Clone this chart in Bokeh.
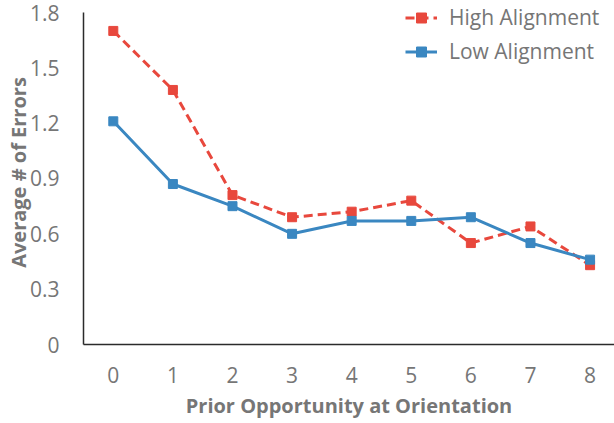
from bokeh.plotting import figure
from bokeh.models import FixedTicker, Legend, LegendItem, Range1d
from bokeh.embed import file_html
from bokeh.resources import INLINE

opportunity = [0, 1, 2, 3, 4, 5, 6, 7, 8]
high_alignment = [1.70, 1.38, 0.81, 0.69, 0.72, 0.78, 0.55, 0.64, 0.43]
low_alignment = [1.21, 0.87, 0.75, 0.60, 0.67, 0.67, 0.69, 0.55, 0.46]
y_ticks = [0, 0.3, 0.6, 0.9, 1.2, 1.5, 1.8]
y_tick_labels = ["0", "0.3", "0.6", "0.9", "1.2", "1.5", "1.8"]
x_tick_labels = ["0", "1", "2", "3", "4", "5", "6", "7", "8"]

RED = "#E8483D"
BLUE = "#3A87C1"
GREY = "#767676"
FONT = "Open Sans"

p = figure(width=614, height=423, output_backend="svg", toolbar_location=None,
           x_range=Range1d(-0.5, 8.41), y_range=Range1d(0, 1.865),
           min_border_left=83, min_border_right=0, min_border_top=0, min_border_bottom=79)
p.outline_line_color = None
p.grid.visible = False

hl = p.line(opportunity, high_alignment, line_color=RED, line_width=3, line_dash="9 5")
hm = p.scatter(opportunity, high_alignment, marker="square", size=9, fill_color=RED, line_color=RED)
ll = p.line(opportunity, low_alignment, line_color=BLUE, line_width=3)
lm = p.scatter(opportunity, low_alignment, marker="square", size=9, fill_color=BLUE, line_color=BLUE)

for ax in (p.xaxis[0], p.yaxis[0]):
    ax.axis_line_color = "#2b2b2b"
    ax.axis_line_width = 1.5
    ax.major_tick_line_color = None
    ax.minor_tick_line_color = None
    ax.major_label_text_font = FONT
    ax.major_label_text_font_size = "21px"
    ax.major_label_text_color = GREY
    ax.axis_label_text_font = FONT
    ax.axis_label_text_font_size = "20px"
    ax.axis_label_text_font_style = "bold"
    ax.axis_label_text_color = GREY

p.xaxis.ticker = FixedTicker(ticks=opportunity)
p.xaxis.major_label_overrides = {v: s for v, s in zip(opportunity, x_tick_labels)}
p.yaxis.ticker = FixedTicker(ticks=y_ticks)
p.yaxis.major_label_overrides = {v: s for v, s in zip(y_ticks, y_tick_labels)}
p.yaxis.bounds = (y_ticks[0], y_ticks[-1])
p.xaxis.axis_label = "Prior Opportunity at Orientation"
p.yaxis.axis_label = "Average # of Errors"
p.xaxis.major_label_standoff = 16
p.xaxis.axis_label_standoff = 6
p.yaxis.major_label_standoff = 18
p.yaxis.axis_label_standoff = -5

legend = Legend(items=[LegendItem(label="High Alignment", renderers=[hl, hm]),
                       LegendItem(label="Low Alignment", renderers=[ll, lm])],
                location=(322, 279), orientation="vertical")
legend.border_line_color = None
legend.background_fill_alpha = 0
legend.padding = 0
legend.margin = 0
legend.spacing = 6
legend.glyph_width = 32
legend.glyph_height = 25
legend.label_height = 25
legend.label_standoff = 12
legend.label_text_font = FONT
legend.label_text_font_size = "21px"
legend.label_text_color = GREY
p.add_layout(legend, "center")

open("out.html", "w").write(file_html(p, INLINE))
